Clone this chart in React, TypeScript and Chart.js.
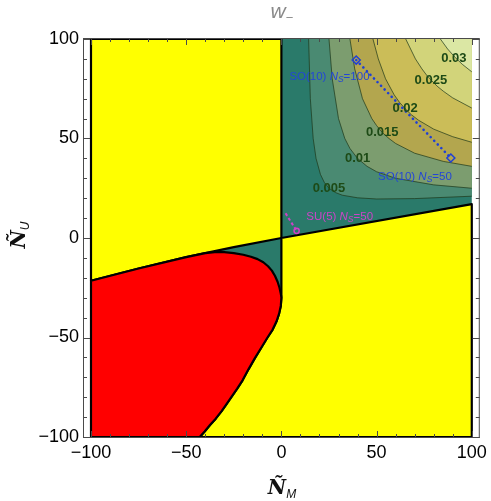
import React, { useEffect, useRef } from 'react';
import { Chart, registerables } from 'chart.js';
Chart.register(...registerables);

// ---- data ----
const xTicks = [-100, -50, 0, 50, 100];
const yTicks = [-100, -50, 0, 50, 100];
const contourLevels = ['0.005', '0.01', '0.015', '0.02', '0.025', '0.03'];
const contourLabelAt: [number, number][] = [[25, 25], [40, 40], [53, 53], [65, 65], [78.5, 79], [90.6, 90]];

// boundary of the yellow regions (x, y)
const boundaryLeft: [number, number][] = [[-100, -21.5], [-75, -15.3], [-50, -9.6], [-40, -7.6], [-25, -4.6], [0, 0]];
const boundaryRight: [number, number][] = [[0, 0], [100, 17]];
// red region edge
const redUpper: [number, number][] = [[-40, -7.6], [-35, -7.1], [-30, -7.1], [-25, -7.6], [-20, -8.4], [-16, -9.4], [-12.5, -10.6], [-9.5, -12.2], [-7, -14.2], [-5, -16.4], [-3.4, -19], [-2, -22], [-1, -25], [-0.3, -28], [0, -30]];
const redLower: [number, number][] = [[0, -30], [-0.3, -34], [-1.2, -38], [-2.6, -42], [-4.6, -46], [-7.3, -50], [-10.5, -55], [-14, -60.5], [-17.3, -66], [-20.4, -71.5], [-23.3, -75.8], [-26.3, -80], [-29, -83.7], [-31.4, -87], [-34.5, -90.8], [-37.5, -94], [-40.3, -97.2], [-42.9, -100]];

// contour lines of w_-
const c005: [number, number][] = [[14.3, 100], [15.2, 70], [16.7, 50], [18.2, 40], [20.5, 32], [22.5, 28], [25, 25], [28.5, 22.8], [32, 21.5], [40, 20.2], [50, 19.6], [70, 19.8], [100, 21]];
const c010: [number, number][] = [[25, 100], [26.7, 80], [30, 60], [33.3, 50], [36, 45], [40, 40], [45, 36], [50, 33.3], [60, 30], [80, 26.7], [100, 25]];
const c015: [number, number][] = [[36, 100], [38.5, 85], [42.6, 70], [47.5, 60], [50, 56.5], [53, 53], [56.5, 50], [60, 47.5], [70, 42.6], [85, 38.5], [100, 36]];
const c020: [number, number][] = [[48.1, 100], [50.9, 90], [54.7, 80], [59.2, 72], [62, 68.2], [65, 65], [68.2, 62], [72, 59.2], [80, 54.7], [90, 50.9], [100, 48.1]];
const c025: [number, number][] = [[65.3, 100], [70.4, 90], [73.8, 85], [76.3, 81.8], [79, 79], [81.8, 76.3], [85, 73.8], [90, 70.4], [100, 65.3]];
const c030: [number, number][] = [[83.5, 100], [87.3, 95], [91, 91], [95, 87.3], [100, 83.5]];

// benchmark points
const so10Line: [number, number][] = [[39.3, 89.4], [89, 40.2]];
const su5Line: [number, number][] = [[2.2, 12.4], [8, 3.6]];

// ---- styling ----
const FONT = '"Liberation Sans", Arial, sans-serif';
const TEAL = '#2a7a6a';
const bandColors = ['#4a8a72', '#7c9d6f', '#b3a64e', '#cbbd58', '#d2d47a', '#dbe7a4'];
const contours = [c005, c010, c015, c020, c025, c030];

const pts = (a: [number, number][]) => a.map(([x, y]) => ({ x, y }));

function poly(a: [number, number][], color: string, order: number, border = false) {
  const d = border ? [...a, a[0]] : a;
  return {
    data: pts(d),
    showLine: true,
    fill: 'shape',
    backgroundColor: color,
    borderColor: border ? '#000' : 'rgba(0,0,0,0)',
    borderWidth: border ? 2.2 : 0,
    borderJoinStyle: 'round',
    pointRadius: 0,
    tension: 0,
    order,
  };
}

function richText(ctx: CanvasRenderingContext2D, parts: { t: string; f: string; dy?: number }[], x: number, y: number, align: 'left' | 'center' = 'left') {
  let total = 0;
  for (const p of parts) { ctx.font = p.f; total += ctx.measureText(p.t).width; }
  let cx = align === 'center' ? x - total / 2 : x;
  ctx.textAlign = 'left';
  for (const p of parts) {
    ctx.font = p.f;
    ctx.fillText(p.t, cx, y + (p.dy || 0));
    cx += ctx.measureText(p.t).width;
  }
}

const fmt = (v: number) => (v < 0 ? '\u2212' + Math.abs(v) : String(v));

const drawPlugin = {
  id: 'decor',
  afterDatasetsDraw(chart: any) {
    const ctx: CanvasRenderingContext2D = chart.ctx;
    const xs = chart.scales.x, ys = chart.scales.y;
    ctx.save();
    ctx.textBaseline = 'middle';
    // contour labels
    ctx.fillStyle = '#1d4a16';
    ctx.font = `bold 13px ${FONT}`;
    ctx.textAlign = 'center';
    contourLevels.forEach((lab, i) => {
      const [x, y] = contourLabelAt[i];
      ctx.fillText(lab, xs.getPixelForValue(x), ys.getPixelForValue(y));
    });
    // SO(10) labels
    ctx.fillStyle = '#2346d6';
    const f = `11.5px ${FONT}`, fi = `italic 11.5px ${FONT}`, fs = `italic 8.5px ${FONT}`;
    const so = (n: string) => [
      { t: 'SO(10) ', f }, { t: 'N', f: fi }, { t: 'S', f: fs, dy: 3 }, { t: '=' + n, f },
    ];
    richText(ctx, so('100'), xs.getPixelForValue(4.2), ys.getPixelForValue(80.9));
    richText(ctx, so('50'), xs.getPixelForValue(50.8), ys.getPixelForValue(30.7));
    ctx.fillStyle = '#cc44c8';
    richText(ctx, [{ t: 'SU(5) ', f }, { t: 'N', f: fi }, { t: 'S', f: fs, dy: 3 }, { t: '=50', f }], xs.getPixelForValue(13.1), ys.getPixelForValue(10.6));
    ctx.restore();
  },
  afterDraw(chart: any) {
    const ctx: CanvasRenderingContext2D = chart.ctx;
    const { left, right, top, bottom } = chart.chartArea;
    const xs = chart.scales.x, ys = chart.scales.y;
    ctx.save();
    // frame
    ctx.strokeStyle = '#4a4a4a';
    ctx.lineWidth = 1;
    ctx.strokeRect(left + 0.5, top + 0.5, right - left - 1, bottom - top - 1);
    ctx.beginPath();
    for (let v = -100; v <= 100; v += 10) {
      const len = v % 50 === 0 ? 7 : 4;
      const px = Math.round(xs.getPixelForValue(v)) + 0.5;
      ctx.moveTo(px, bottom); ctx.lineTo(px, bottom - len);
      ctx.moveTo(px, top); ctx.lineTo(px, top + len);
      const py = Math.round(ys.getPixelForValue(v)) + 0.5;
      ctx.moveTo(left, py); ctx.lineTo(left + len, py);
      ctx.moveTo(right, py); ctx.lineTo(right - len, py);
    }
    ctx.stroke();
    // title
    ctx.fillStyle = '#8a8a8a';
    ctx.textBaseline = 'alphabetic';
    richText(ctx, [{ t: 'w', f: `italic 21px ${FONT}` }, { t: '\u2212', f: `13px ${FONT}`, dy: 4 }], 282, 18, 'center');
    // axis titles
    ctx.fillStyle = '#111';
    const main = `bold italic 20px "DejaVu Serif", serif`;
    const sub = `italic 12px ${FONT}`;
    richText(ctx, [{ t: 'Ñ', f: main }, { t: 'M', f: sub, dy: 4 }], 282, 494, 'center');
    ctx.translate(25, 235);
    ctx.rotate(-Math.PI / 2);
    richText(ctx, [{ t: 'Ñ', f: main }, { t: 'U', f: sub, dy: 4 }], 0, 0, 'center');
    ctx.restore();
  },
};

export default function App() {
  const ref = useRef<HTMLCanvasElement>(null);
  useEffect(() => {
    const tealMain: [number, number][] = [...boundaryRight, [100, 100], [0, 100]];
    const tealSliver: [number, number][] = [...boundaryLeft.slice(3), ...[...redUpper].reverse().slice(0, -1)];
    const yellowUpper: [number, number][] = [[-100, 100], [0, 100], ...[...boundaryLeft].reverse()];
    const yellowLower: [number, number][] = [[100, -100], ...[...boundaryRight].reverse(), ...redLower];
    const red: [number, number][] = [[-100, -100], ...boundaryLeft.slice(0, 4), ...redUpper.slice(1), ...redLower.slice(1)];

    const datasets: any[] = [
      poly(tealMain, TEAL, 100),
      poly(tealSliver, TEAL, 99),
      ...contours.map((c, i) => poly([...c, [100, 100]], bandColors[i], 90 - i)),
      ...contours.map((c) => ({
        data: pts(c), showLine: true, fill: false, borderColor: 'rgba(30,55,25,0.7)', borderWidth: 1, pointRadius: 0, tension: 0, order: 80,
      })),
      poly(yellowUpper, '#ffff00', 50, true),
      poly(yellowLower, '#ffff00', 49, true),
      poly(red, '#ff0000', 48, true),
      {
        data: pts(so10Line), showLine: true, fill: false, borderColor: '#1f3fd6', borderWidth: 2.6,
        borderDash: [0.1, 5], borderCapStyle: 'round', pointStyle: 'rectRot', pointRadius: 4,
        pointBorderWidth: 1.5, pointBorderColor: '#1f3fd6', pointBackgroundColor: 'rgba(0,0,0,0)', order: 10,
      },
      {
        data: pts(su5Line), showLine: true, fill: false, borderColor: '#d040c8', borderWidth: 2,
        borderDash: [3, 2.5], pointStyle: 'circle',
        pointRadius: (c: any) => (c.dataIndex === su5Line.length - 1 ? 2.6 : 0),
        pointBorderWidth: 1.5, pointBorderColor: '#d040c8', pointBackgroundColor: 'rgba(0,0,0,0)', order: 9,
      },
    ];

    const tickFont = { family: FONT, size: 18 };
    const chart = new Chart(ref.current!, {
      type: 'scatter',
      data: { datasets },
      options: {
        responsive: false,
        animation: false,
        devicePixelRatio: 1,
        layout: { padding: { top: 38, right: 10, left: 0, bottom: 0 } },
        plugins: { legend: { display: false }, tooltip: { enabled: false }, title: { display: false } },
        scales: {
          x: {
            type: 'linear', min: -104.2, max: 104.2,
            afterBuildTicks: (s: any) => { s.ticks = xTicks.map((v) => ({ value: v })); },
            afterFit: (s: any) => { s.height = 63; },
            grid: { display: false, drawTicks: false }, border: { display: false },
            ticks: { padding: 4, color: '#000', font: tickFont, maxRotation: 0, autoSkip: false, callback: (v: any) => fmt(Number(v)) },
          },
          y: {
            type: 'linear', min: -100.5, max: 100.5,
            afterBuildTicks: (s: any) => { s.ticks = yTicks.map((v) => ({ value: v })); },
            afterFit: (s: any) => { s.width = 83; },
            grid: { display: false, drawTicks: false }, border: { display: false },
            ticks: { padding: 4, color: '#000', font: tickFont, autoSkip: false, callback: (v: any) => fmt(Number(v)) },
          },
        },
      } as any,
      plugins: [drawPlugin],
    });
    return () => chart.destroy();
  }, []);
  return (
    <div style={{ position: 'absolute', left: 0, top: 0, width: 491, height: 501, background: '#fff' }}>
      <canvas ref={ref} width={491} height={501} style={{ display: 'block', width: 491, height: 501 }} />
    </div>
  );
}
